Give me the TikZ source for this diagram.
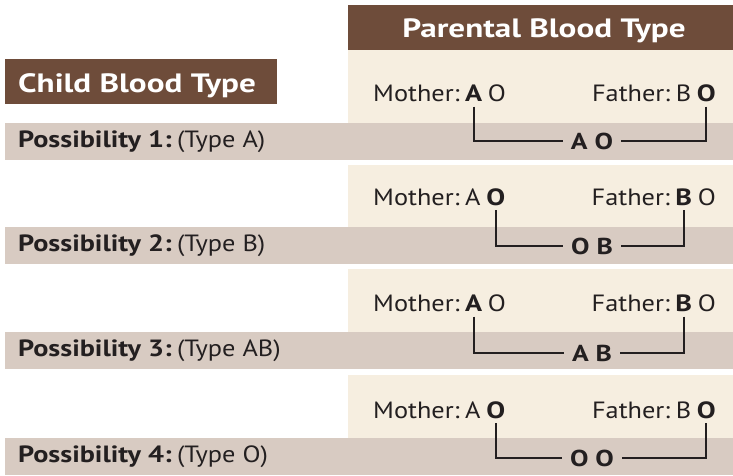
\documentclass[tikz,border=0pt]{standalone}
\usepackage{fontspec}
\setmainfont{PT Sans}[FakeStretch=1.12, BoldFeatures={FakeStretch=1.2}]
\newfontfamily\hdrfont{PT Sans Bold}[FakeStretch=1.25]
\definecolor{hdrbrown}{RGB}{110,76,58}
\definecolor{stripe}{RGB}{216,203,194}
\definecolor{cream}{RGB}{246,238,224}
\definecolor{ink}{RGB}{35,31,32}
\newlength\spw
\newcommand\pfont{\fontsize{23.5}{28}\selectfont}
\tikzset{
  hdrbox/.style={fill=hdrbrown, draw=none},
  stripebox/.style={fill=stripe, draw=none},
  creambox/.style={fill=cream, draw=none},
  hdrtxt/.style={inner sep=0pt, text=white, font=\hdrfont\fontsize{26.5}{31}\selectfont},
  ptxt/.style={inner sep=0pt, anchor=base west, text=ink, font=\pfont},
  pbold/.style={ptxt, font=\pfont\bfseries},
  possib/.style={inner sep=0pt, anchor=base west, text=ink, font=\pfont},
  clbl/.style={inner ysep=0pt, inner xsep=8pt, text=ink, font=\fontsize{23}{27}\selectfont\bfseries},
  conn/.style={draw=ink, line width=2pt},
}
\begin{document}
\settowidth{\spw}{\pfont\ }%
\setlength{\spw}{0.75\spw}%
\begin{tikzpicture}[x=1pt,y=-1pt]
\useasboundingbox (0,0) rectangle (733,475);
\fill[white] (0,0) rectangle (733,475);
% panels
\fill[creambox] (348,50) rectangle (733,123);
\fill[creambox] (348,165) rectangle (733,227);
\fill[creambox] (348,269) rectangle (733,332);
\fill[creambox] (348,375) rectangle (733,438);
\fill[stripebox] (5,123) rectangle (733,160);
\fill[stripebox] (5,227) rectangle (733,264);
\fill[stripebox] (5,332) rectangle (733,369);
\fill[stripebox] (5,438) rectangle (733,475);
% headers
\fill[hdrbox] (348,5) rectangle (733,50);
\node[hdrtxt, anchor=base] (ph) at (544,37) {Parental Blood Type};
\fill[hdrbox] (5,59) rectangle (277,104);
\node[hdrtxt, anchor=base west] (ch) at (18,92) {Child Blood Type};
% possibility labels
\node[possib] (p1) at (18,147) {\textbf{Possibility 1:}\hspace{\spw}(Type A)};
\node[possib] (p2) at (18,251) {\textbf{Possibility 2:}\hspace{\spw}(Type B)};
\node[possib] (p3) at (18,356) {\textbf{Possibility 3:}\hspace{\spw}(Type AB)};
\node[possib] (p4) at (18,462) {\textbf{Possibility 4:}\hspace{\spw}(Type O)};
% row 1
\node[ptxt] (m1) at (373,101.5) {Mother:};
\node[pbold] (m1a) at ([xshift=\spw]m1.base east) {A};
\node[ptxt] (m1b) at ([xshift=\spw]m1a.base east) {O};
\node[pbold, anchor=base east] (f1b) at (716,101.5) {O};
\node[ptxt, anchor=base east] (f1a) at ([xshift=-\spw]f1b.base west) {B};
\node[ptxt, anchor=base east] (f1) at ([xshift=-\spw]f1a.base west) {Father:};
\node[clbl] (c1) at (592,141) {A O};
\draw[conn] ([yshift=-5pt]m1a.base) |- (c1.west);
\draw[conn] ([yshift=-5pt]f1b.base) |- (c1.east);
% row 2
\node[ptxt] (m2) at (373,205) {Mother:};
\node[ptxt] (m2a) at ([xshift=\spw]m2.base east) {A};
\node[pbold] (m2b) at ([xshift=\spw]m2a.base east) {O};
\node[ptxt, anchor=base east] (f2b) at (716,205) {O};
\node[pbold, anchor=base east] (f2a) at ([xshift=-\spw]f2b.base west) {B};
\node[ptxt, anchor=base east] (f2) at ([xshift=-\spw]f2a.base west) {Father:};
\node[clbl] (c2) at (592,246) {O B};
\draw[conn] ([yshift=-5pt]m2b.base) |- (c2.west);
\draw[conn] ([yshift=-5pt]f2a.base) |- (c2.east);
% row 3
\node[ptxt] (m3) at (373,311.5) {Mother:};
\node[pbold] (m3a) at ([xshift=\spw]m3.base east) {A};
\node[ptxt] (m3b) at ([xshift=\spw]m3a.base east) {O};
\node[ptxt, anchor=base east] (f3b) at (716,311.5) {O};
\node[pbold, anchor=base east] (f3a) at ([xshift=-\spw]f3b.base west) {B};
\node[ptxt, anchor=base east] (f3) at ([xshift=-\spw]f3a.base west) {Father:};
\node[clbl] (c3) at (592,353) {A B};
\draw[conn] ([yshift=-5pt]m3a.base) |- (c3.west);
\draw[conn] ([yshift=-5pt]f3a.base) |- (c3.east);
% row 4
\node[ptxt] (m4) at (373,418) {Mother:};
\node[ptxt] (m4a) at ([xshift=\spw]m4.base east) {A};
\node[pbold] (m4b) at ([xshift=\spw]m4a.base east) {O};
\node[pbold, anchor=base east] (f4b) at (716,418) {O};
\node[ptxt, anchor=base east] (f4a) at ([xshift=-\spw]f4b.base west) {B};
\node[ptxt, anchor=base east] (f4) at ([xshift=-\spw]f4a.base west) {Father:};
\node[clbl] (c4) at (592,458) {O O};
\draw[conn] ([yshift=-5pt]m4b.base) |- (c4.west);
\draw[conn] ([yshift=-5pt]f4b.base) |- (c4.east);
\end{tikzpicture}
\end{document}
